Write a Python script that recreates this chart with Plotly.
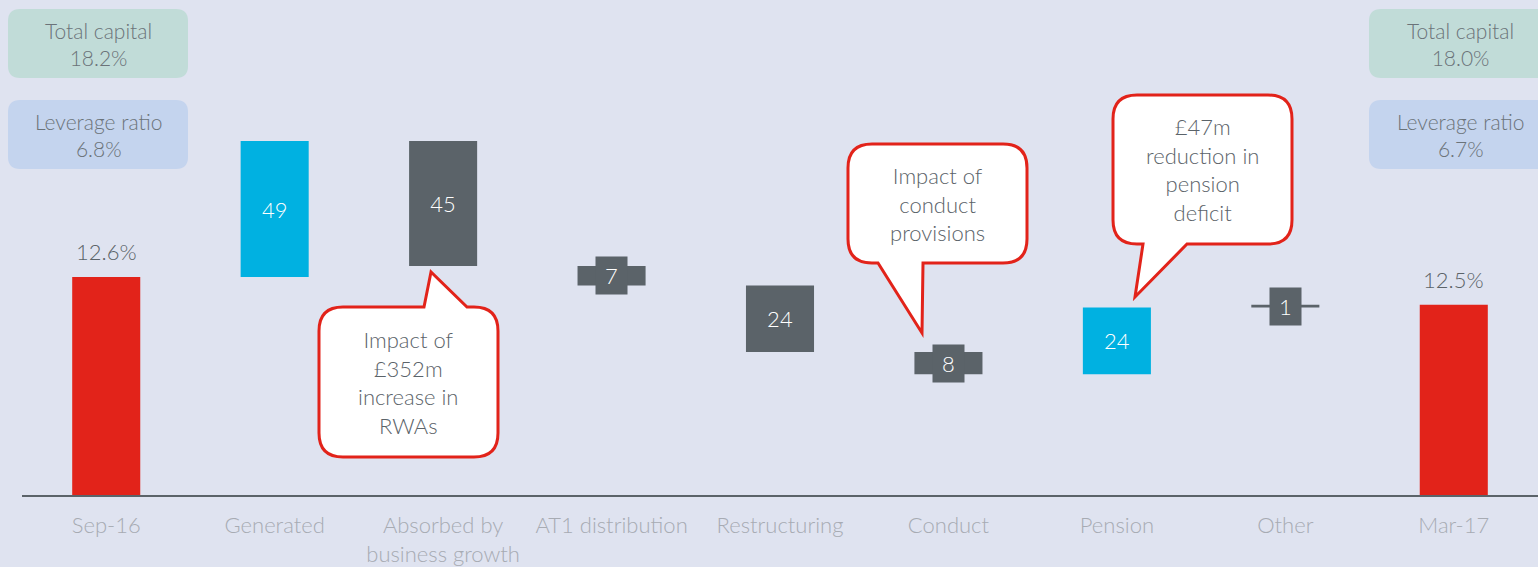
import plotly.graph_objects as go

# data (basis points of CET1 ratio)
categories = ['Sep-16', 'Generated', 'Absorbed by<br>business growth', 'AT1 distribution',
              'Restructuring', 'Conduct', 'Pension', 'Other', 'Mar-17']
start_ratio = 12.6
end_ratio = 12.5
movements_bp = [49, -45, -7, -24, -8, 24, 1]
total_capital = ['18.2%', '18.0%']
leverage_ratio = ['6.8%', '6.7%']
callout_texts = ['Impact of<br>£352m<br>increase in<br>RWAs',
                 'Impact of<br>conduct<br>provisions',
                 '£47m<br>reduction in<br>pension<br>deficit']

RED, CYAN, GREY = '#e2231a', '#00b1e1', '#5b6369'
BG = '#dfe3f0'
FONT = 'Lato'

W, H = 1538, 567
ML, MR, MT, MB = 22, 0, 0, 72
PW, PH = W - ML - MR, H - MT - MB
Y0, YPX = 1181.5, 2.776  # axis floor in bp, pixels per bp

# build waterfall
bases, heights, colors, texts, tpos = [], [], [], [], []
totals = []
y_min = Y0
bases.append(y_min); heights.append(start_ratio * 100 - y_min)
colors.append(RED); texts.append(''); tpos.append('none')
totals.append((categories[0], start_ratio))
level = start_ratio * 100
small = []
for i, m in enumerate(movements_bp):
    lo = min(level, level + m)
    bases.append(lo); heights.append(abs(m))
    if abs(m) >= 20:
        colors.append(CYAN if m > 0 else GREY)
        texts.append(str(abs(m))); tpos.append('inside')
    else:
        colors.append(GREY)
        texts.append(''); tpos.append('none')
        small.append((categories[i + 1], lo + abs(m) / 2, abs(m)))
    level += m
bases.append(y_min); heights.append(end_ratio * 100 - y_min)
colors.append(RED); texts.append(''); tpos.append('none')
totals.append((categories[-1], end_ratio))

fig = go.Figure(go.Bar(
    x=categories, y=heights, base=bases, width=0.404,
    marker=dict(color=colors, line=dict(width=0)),
    text=texts, textposition=tpos, insidetextanchor='middle',
    insidetextfont=dict(family=FONT, size=22, color='white', weight=300),
    constraintext='none', cliponaxis=False, hoverinfo='skip'))

annotations = []
for cat, yc, v in small:
    annotations.append(dict(x=cat, y=yc, xref='x', yref='y', text=str(v), showarrow=False,
                            bgcolor=GREY, width=31, height=37, borderpad=0,
                            font=dict(family=FONT, size=22, color='white', weight=300)))
for cat, r in totals:
    annotations.append(dict(x=cat, y=r * 100, xref='x', yref='y', text=f'{r:.1f}%',
                            showarrow=False, yanchor='bottom', yshift=10,
                            font=dict(family=FONT, size=22, color=GREY, weight=300)))


def px(x):
    return (x - ML) / PW


def py(y):
    return (MT + PH - y) / PH


def path_from(points):
    s = ''
    for p in points:
        if p[0] == 'M':
            s += f'M{px(p[1]):.5f},{py(p[2]):.5f} '
        elif p[0] == 'L':
            s += f'L{px(p[1]):.5f},{py(p[2]):.5f} '
        else:
            s += f'Q{px(p[1]):.5f},{py(p[2]):.5f} {px(p[3]):.5f},{py(p[4]):.5f} '
    return s + 'Z'


def rounded(x0, y0, x1, y1, r, top_tail=None, bottom_tail=None):
    pts = [('M', x0 + r, y0)]
    if top_tail:
        pts += [('L', *p) for p in top_tail]
    pts += [('L', x1 - r, y0), ('Q', x1, y0, x1, y0 + r), ('L', x1, y1 - r),
            ('Q', x1, y1, x1 - r, y1)]
    if bottom_tail:
        pts += [('L', *p) for p in bottom_tail]
    pts += [('L', x0 + r, y1), ('Q', x0, y1, x0, y1 - r), ('L', x0, y0 + r),
            ('Q', x0, y0, x0 + r, y0)]
    return path_from(pts)


def label(xc, yc, text, size=22, color=GREY):
    return dict(x=px(xc), y=py(yc), xref='paper', yref='paper', showarrow=False,
                xanchor='center', yanchor='middle', text=text,
                font=dict(family=FONT, size=size, color=color, weight=300))


shapes = []
# info boxes
for (x0, x1) in [(8, 188), (1369, 1551)]:
    shapes.append(dict(type='path', xref='paper', yref='paper', path=rounded(x0, 9, x1, 78, 12),
                       fillcolor='#c1dcd8', line=dict(width=0), layer='below'))
    shapes.append(dict(type='path', xref='paper', yref='paper', path=rounded(x0, 100, x1, 169, 12),
                       fillcolor='#c4d4ee', line=dict(width=0), layer='below'))
for j, xc in enumerate([98, 1460]):
    annotations.append(label(xc, 44, f'Total capital<br>{total_capital[j]}', 21, '#6b7379'))
    annotations.append(label(xc, 135, f'Leverage ratio<br>{leverage_ratio[j]}', 21, '#6b7379'))

# callouts
callouts = [
    dict(box=(319, 307, 498, 457), top=[(424, 307), (431, 272), (467, 307)], bottom=None),
    dict(box=(848, 144, 1027, 263), top=None, bottom=[(923, 263), (922, 333), (878, 263)]),
    dict(box=(1113, 95, 1292, 244), top=None, bottom=[(1187, 244), (1135, 297), (1143, 244)]),
]
for c, txt in zip(callouts, callout_texts):
    x0, y0, x1, y1 = c['box']
    shapes.append(dict(type='path', xref='paper', yref='paper',
                       path=rounded(x0, y0, x1, y1, 24, c['top'], c['bottom']),
                       fillcolor='white', line=dict(color=RED, width=3), layer='above'))
    annotations.append(label((x0 + x1) / 2, (y0 + y1) / 2, txt))

fig.update_layout(
    width=W, height=H, margin=dict(l=ML, r=MR, t=MT, b=MB),
    paper_bgcolor=BG, plot_bgcolor=BG, showlegend=False,
    shapes=shapes, annotations=annotations,
    font=dict(family=FONT, size=22, color=GREY),
    xaxis=dict(showline=True, linecolor=GREY, linewidth=2, showgrid=False, ticks='',
               range=[-0.5, 8.5], ticklabelstandoff=10,
               tickfont=dict(family=FONT, size=22, color='#a7abb3', weight=300)),
    yaxis=dict(range=[Y0, Y0 + PH / YPX], visible=False, showgrid=False, zeroline=False),
)

fig.write_html('out.html', config={'displayModeBar': False},
               post_script="document.body.style.margin='0';")
